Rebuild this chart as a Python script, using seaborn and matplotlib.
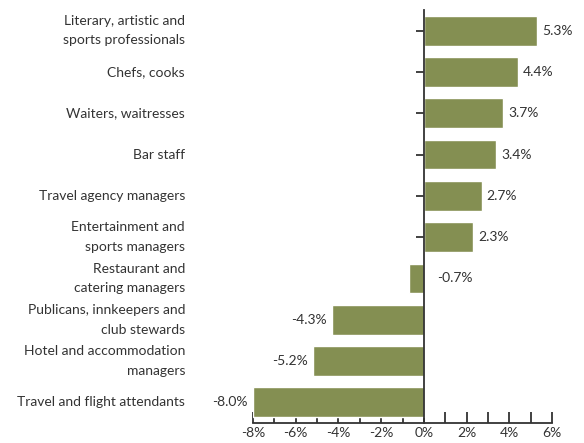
import numpy as np
import pandas as pd
import matplotlib
matplotlib.use('Agg')
import matplotlib.pyplot as plt
import seaborn as sns

occupations = ['Literary, artistic and\nsports professionals',
               'Chefs, cooks',
               'Waiters, waitresses',
               'Bar staff',
               'Travel agency managers',
               'Entertainment and\nsports managers',
               'Restaurant and\ncatering managers',
               'Publicans, innkeepers and\nclub stewards',
               'Hotel and accommodation\nmanagers',
               'Travel and flight attendants']
change_pct = [5.3, 4.4, 3.7, 3.4, 2.7, 2.3, -0.7, -4.3, -5.2, -8.0]
x_ticks = [-8, -6, -4, -2, 0, 2, 4, 6]

df = pd.DataFrame({'occupation': occupations, 'change': change_pct})

sns.set_style('white')
plt.rcParams['font.family'] = ['Lato', 'DejaVu Sans']
text_col = '#333333'
bar_col = '#848F52'
fs = 10

fig = plt.figure(figsize=(5.84, 4.43), dpi=100)
ax = fig.add_axes([253/584, 20/443, 299/584, 413/443])

sns.barplot(data=df, x='change', y='occupation', orient='h', color=bar_col,
            width=0.72, saturation=1, ax=ax)

ax.set_xlim(-8, 6)
ax.set_ylim(9.5, -0.5)
ax.set_xlabel('')
ax.set_ylabel('')

# spines: bottom axis + zero line
for s in ['top', 'right']:
    ax.spines[s].set_visible(False)
ax.spines['left'].set_position(('data', 0))
ax.spines['left'].set_color('#333333')
ax.spines['left'].set_linewidth(1.3)
ax.spines['bottom'].set_color('#333333')
ax.spines['bottom'].set_linewidth(1.3)

ax.set_xticks(x_ticks)
ax.set_xticklabels([f'{t}%' for t in x_ticks], color=text_col, fontsize=fs)
ax.set_xticks(np.arange(-8, 7, 1), minor=True)
ax.tick_params(axis='x', which='both', direction='in', length=8, width=1.3,
               color='#333333', bottom=True, pad=3)
ax.tick_params(axis='y', which='both', direction='out', length=6, width=1.3,
               color='#333333', left=True, labelleft=False)

# category labels far left
for i, lab in enumerate(occupations):
    ax.annotate(lab, xy=(0, i), xycoords=('axes fraction', 'data'),
                xytext=(-68, 0), textcoords='offset pixels',
                ha='right', va='center', fontsize=fs, color=text_col,
                linespacing=1.75)

# value labels
for i, v in enumerate(change_pct):
    if v >= 0:
        ax.annotate(f'{v:.1f}%', xy=(v, i), xytext=(5, 0),
                    textcoords='offset pixels', ha='left', va='center',
                    fontsize=fs, color=text_col)
    elif v > -1:
        ax.annotate(f'{v:.1f}%', xy=(0, i), xytext=(13, 0),
                    textcoords='offset pixels', ha='left', va='center',
                    fontsize=fs, color=text_col)
    else:
        ax.annotate(f'{v:.1f}%', xy=(v, i), xytext=(-5, 0),
                    textcoords='offset pixels', ha='right', va='center',
                    fontsize=fs, color=text_col)

fig.savefig('out.png', dpi=100)
